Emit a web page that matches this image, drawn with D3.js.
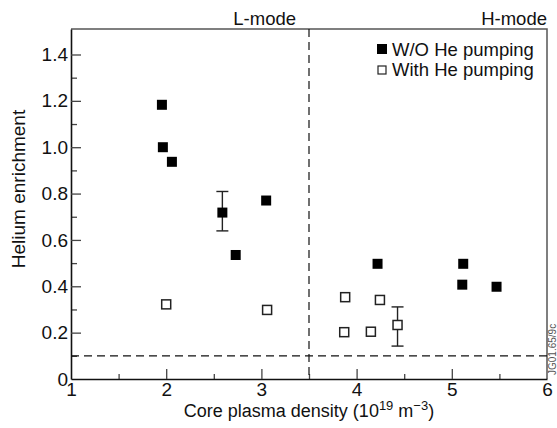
<!DOCTYPE html>
<meta charset="utf-8">
<script src="https://d3js.org/d3.v7.min.js"></script>
<style>
  body { margin: 0; background: #fff; }
  text { font-family: "Liberation Sans", Arial, sans-serif; fill: #111; }
</style>
<div id="my_dataviz"></div>
<script>

// data
var withoutPump = [
  {x: 1.955, y: 1.183}, {x: 1.965, y: 1.0}, {x: 2.06, y: 0.937},
  {x: 2.59, y: 0.718}, {x: 2.73, y: 0.535}, {x: 3.05, y: 0.77},
  {x: 4.22, y: 0.497}, {x: 5.12, y: 0.497}, {x: 5.11, y: 0.407},
  {x: 5.47, y: 0.398}
];
var withPump = [
  {x: 2.0, y: 0.322}, {x: 3.06, y: 0.298}, {x: 3.88, y: 0.353},
  {x: 3.87, y: 0.202}, {x: 4.15, y: 0.204}, {x: 4.245, y: 0.341},
  {x: 4.43, y: 0.233}
];
var errorBars = [
  {x: 2.59, lo: 0.639, hi: 0.809},
  {x: 4.43, lo: 0.142, hi: 0.311}
];
var xTicks = [1, 2, 3, 4, 5, 6];
var yTicks = [0, 0.2, 0.4, 0.6, 0.8, 1.0, 1.2, 1.4];
var modeBoundary = 3.5;
var enrichLimit = 0.1;
var legendLabels = ["W/O He pumping", "With He pumping"];

var margin = {top: 29, right: 10, bottom: 49, left: 71},
    width = 557 - margin.left - margin.right,
    height = 428 - margin.top - margin.bottom;

var svg = d3.select("#my_dataviz")
  .append("svg")
    .attr("width", 557)
    .attr("height", 428)
  .append("g")
    .attr("transform", "translate(" + margin.left + "," + margin.top + ")");

var x = d3.scaleLinear().domain([1, 6]).range([0, width]);
var y = d3.scaleLinear().domain([0, 1.51]).range([height, 0]);

// frame (top + right, grey like the original)
svg.append("path")
  .attr("d", "M0,0H" + width + "V" + height)
  .attr("fill", "none")
  .attr("stroke", "#555")
  .attr("stroke-width", 1.5);

// minor ticks
svg.append("g")
  .attr("transform", "translate(0," + height + ")")
  .call(d3.axisTop(x).tickValues(d3.range(1.5, 6, 1)).tickSize(5).tickFormat(""))
  .call(g => g.select(".domain").remove())
  .selectAll("line").attr("stroke", "#444").attr("stroke-width", 1.3);
svg.append("g")
  .call(d3.axisRight(y).tickValues(d3.range(0.1, 1.5, 0.2)).tickSize(6).tickFormat(""))
  .call(g => g.select(".domain").remove())
  .selectAll("line").attr("stroke", "#444").attr("stroke-width", 1.3);

// x axis
var xAxis = svg.append("g")
  .attr("transform", "translate(0," + height + ")")
  .call(d3.axisBottom(x).tickValues(xTicks).tickSize(0).tickPadding(4).tickFormat(d3.format("d")));
xAxis.select(".domain").attr("stroke", "#111").attr("stroke-width", 1.6);
xAxis.selectAll("text").style("font-size", "19px");
svg.append("g")
  .attr("transform", "translate(0," + height + ")")
  .call(d3.axisTop(x).tickValues(xTicks.slice(1, 5)).tickSize(10).tickFormat(""))
  .call(g => g.select(".domain").remove())
  .selectAll("line").attr("stroke", "#444").attr("stroke-width", 1.3);

// y axis
var yAxis = svg.append("g")
  .call(d3.axisLeft(y).tickValues(yTicks).tickSize(0).tickPadding(3)
    .tickFormat(function(d) { return d === 0 ? "0" : d3.format(".1f")(d); }));
yAxis.select(".domain").attr("stroke", "#111").attr("stroke-width", 1.6);
yAxis.selectAll("text").style("font-size", "19px");
svg.append("g")
  .call(d3.axisRight(y).tickValues(yTicks.slice(1)).tickSize(10).tickFormat(""))
  .call(g => g.select(".domain").remove())
  .selectAll("line").attr("stroke", "#444").attr("stroke-width", 1.3);

// dashed lines
svg.append("line")
  .attr("x1", x(modeBoundary)).attr("x2", x(modeBoundary))
  .attr("y1", 0).attr("y2", height)
  .attr("stroke", "#111").attr("stroke-width", 1.2)
  .attr("stroke-dasharray", "8,5");
svg.append("line")
  .attr("x1", 0).attr("x2", width)
  .attr("y1", y(enrichLimit)).attr("y2", y(enrichLimit))
  .attr("stroke", "#111").attr("stroke-width", 1.2)
  .attr("stroke-dasharray", "8,5");

// mode labels
svg.append("text")
  .attr("x", x(modeBoundary) - 13).attr("y", -4)
  .attr("text-anchor", "end")
  .style("font-size", "18.5px")
  .text("L-mode");
svg.append("text")
  .attr("x", width).attr("y", -4)
  .attr("text-anchor", "end")
  .style("font-size", "18.5px")
  .text("H-mode");

// error bars
var eb = svg.selectAll(".eb").data(errorBars).enter().append("g")
  .attr("stroke", "#222").attr("stroke-width", 1.4);
eb.append("line")
  .attr("x1", d => x(d.x)).attr("x2", d => x(d.x))
  .attr("y1", d => y(d.lo)).attr("y2", d => y(d.hi));
eb.append("line")
  .attr("x1", d => x(d.x) - 6).attr("x2", d => x(d.x) + 6)
  .attr("y1", d => y(d.lo)).attr("y2", d => y(d.lo));
eb.append("line")
  .attr("x1", d => x(d.x) - 6).attr("x2", d => x(d.x) + 6)
  .attr("y1", d => y(d.hi)).attr("y2", d => y(d.hi));

// points
var s = 10;
svg.selectAll(".filled").data(withoutPump).enter().append("rect")
  .attr("x", d => x(d.x) - s / 2).attr("y", d => y(d.y) - s / 2)
  .attr("width", s).attr("height", s)
  .attr("fill", "#000");
svg.selectAll(".open").data(withPump).enter().append("rect")
  .attr("x", d => x(d.x) - 4.5).attr("y", d => y(d.y) - 4.5)
  .attr("width", 9).attr("height", 9)
  .attr("fill", "#fff").attr("stroke", "#222").attr("stroke-width", 1.5);

// legend
var lg = svg.append("g").attr("transform", "translate(306,0)");
lg.append("rect").attr("x", 0).attr("y", 15).attr("width", 10).attr("height", 10).attr("fill", "#000");
lg.append("rect").attr("x", 1).attr("y", 37).attr("width", 8).attr("height", 8)
  .attr("fill", "#fff").attr("stroke", "#222").attr("stroke-width", 1.2);
lg.selectAll(".lt").data(legendLabels).enter().append("text")
  .attr("x", 15).attr("y", (d, i) => 27 + i * 20)
  .style("font-size", "18.5px")
  .text(d => d);

// axis labels
svg.append("text")
  .attr("x", width / 2).attr("y", height + 38)
  .attr("text-anchor", "middle")
  .style("font-size", "18px")
  .html("Core plasma density (10<tspan dy='-7' font-size='13px'>19</tspan><tspan dy='7'> m</tspan><tspan dy='-7' font-size='13px'>\u22123</tspan><tspan dy='7'>)</tspan>");
svg.append("text")
  .attr("transform", "rotate(-90)")
  .attr("x", -160).attr("y", -46)
  .attr("text-anchor", "middle")
  .style("font-size", "19px")
  .text("Helium enrichment");

// figure code
svg.append("text")
  .attr("transform", "translate(" + (width + 9) + "," + (height - 4) + ") rotate(-90)")
  .style("font-size", "10px")
  .style("fill", "#555")
  .text("JG01.65/9c");

</script>
